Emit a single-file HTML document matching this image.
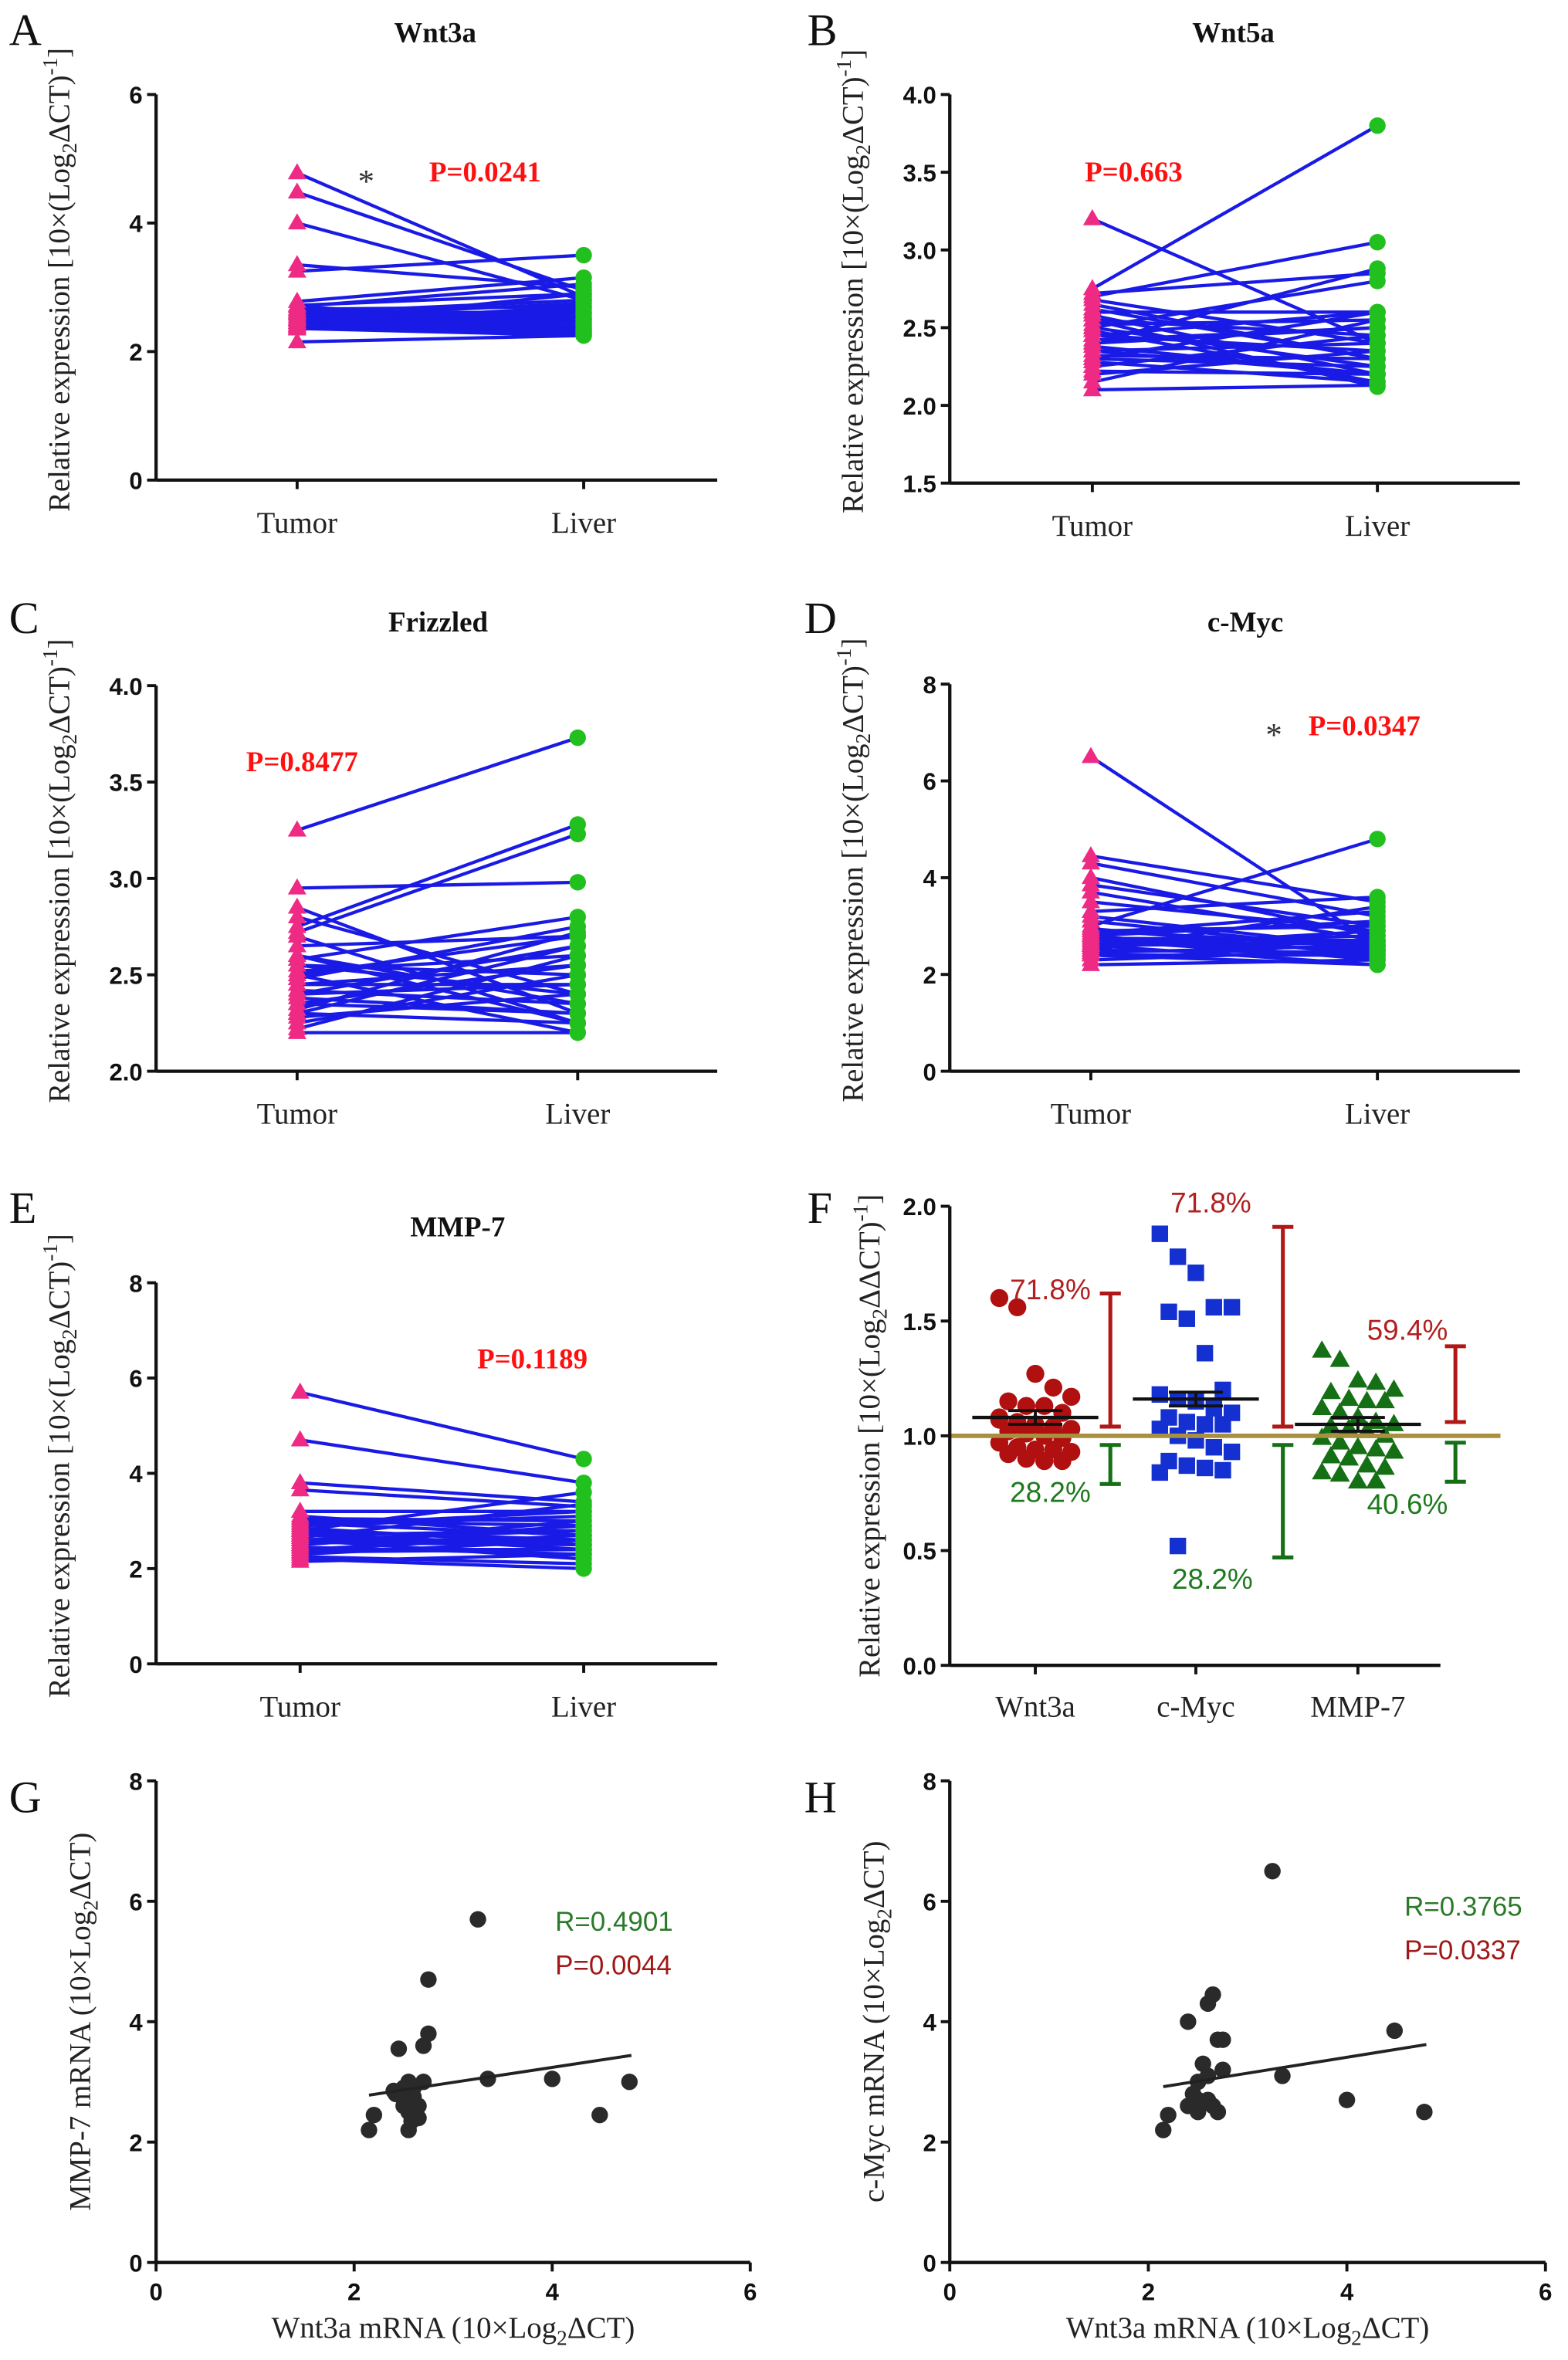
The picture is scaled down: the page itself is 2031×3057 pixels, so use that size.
<!DOCTYPE html>
<html><head><meta charset="utf-8"><style>
html,body{margin:0;padding:0;background:#fff}
svg{display:block}
</style></head><body>
<svg id="fig" width="2031" height="3057" viewBox="0 0 1045 1573" xmlns="http://www.w3.org/2000/svg"></svg>
<script>
// ---------- DATA ----------
const pairCategories = ["Tumor", "Liver"];
const wnt3aTumor = [4.78,4.48,4.0,3.35,3.25,2.78,2.72,2.7,2.66,2.62,2.6,2.58,2.55,2.52,2.5,2.5,2.48,2.45,2.45,2.42,2.4,2.4,2.38,2.36,2.6,2.55,2.5,2.45,2.15,2.65,2.35,2.7];
const wnt3aLiver = [2.85,2.95,2.8,3.0,3.5,3.15,2.9,3.05,2.7,2.6,2.5,2.45,2.4,2.35,2.3,2.6,2.55,2.7,2.28,2.5,2.4,2.35,2.3,2.25,2.8,2.75,2.65,2.9,2.25,2.35,2.5,2.45];
const wnt5aTumor = [3.2,2.75,2.72,2.7,2.65,2.6,2.58,2.55,2.52,2.5,2.48,2.45,2.42,2.4,2.38,2.35,2.32,2.3,2.28,2.25,2.22,2.2,2.15,2.1,2.62,2.5,2.4,2.35,2.68,2.3,2.45,2.55];
const wnt5aLiver = [2.4,3.8,2.85,3.05,2.3,2.6,2.2,2.45,2.55,2.25,2.15,2.35,2.5,2.88,2.2,2.4,2.3,2.6,2.15,2.45,2.2,2.35,2.55,2.13,2.3,2.8,2.5,2.2,2.4,2.25,2.6,2.12];
const frizTumor = [3.25,2.95,2.85,2.8,2.75,2.72,2.65,2.6,2.58,2.55,2.52,2.5,2.48,2.45,2.42,2.4,2.38,2.35,2.32,2.3,2.28,2.25,2.22,2.2,2.6,2.5,2.4,2.35,2.45,2.55,2.3,2.7];
const frizLiver = [3.73,2.98,2.3,2.4,3.28,3.23,2.7,2.25,2.8,2.5,2.6,2.2,2.75,2.45,2.35,2.65,2.3,2.55,2.72,2.25,2.4,2.5,2.6,2.2,2.35,2.7,2.45,2.3,2.55,2.4,2.65,2.25];
const mycTumor = [6.5,4.45,4.3,4.0,3.85,3.7,3.5,3.3,3.1,3.0,2.95,2.9,2.85,2.8,2.75,2.7,2.65,2.6,2.55,2.5,2.45,2.4,2.3,2.2,2.8,2.6,2.7,2.5,3.2,2.4,2.9,2.6];
const mycLiver = [2.6,3.5,3.2,2.8,3.0,2.7,2.9,3.6,2.5,4.8,2.4,2.6,3.3,2.3,2.7,2.5,2.8,2.2,2.9,3.4,2.6,2.4,2.5,2.3,3.1,2.7,2.35,2.45,2.55,2.2,3.0,2.65];
const mmpTumor = [5.7,4.7,3.8,3.65,3.2,3.05,3.0,2.95,2.9,2.85,2.8,2.75,2.7,2.65,2.6,2.55,2.5,2.45,2.4,2.35,2.3,2.25,2.2,2.15,2.8,2.6,2.7,2.5,3.1,2.4,2.9,2.6];
const mmpLiver = [4.3,3.8,3.4,3.3,3.2,3.0,2.9,2.7,3.1,2.5,2.6,2.4,2.8,3.35,2.2,2.5,2.9,2.3,2.7,2.4,2.6,2.1,2.0,2.3,3.6,2.8,2.5,3.0,2.7,2.4,3.2,2.6];
const fCategories = ["Wnt3a", "c-Myc", "MMP-7"];
const fWnt3a = [1.6,1.56,1.27,1.21,1.17,1.15,1.13,1.13,1.1,1.08,1.06,1.05,1.04,1.03,1.02,1.01,1.0,0.99,0.97,0.95,0.94,0.94,0.93,0.92,0.9,0.89,0.89,1.07,1.05];
const fMyc = [1.88,1.78,1.71,1.56,1.56,1.54,1.51,1.36,1.2,1.18,1.16,1.15,1.12,1.1,1.08,1.06,1.05,1.05,1.03,1.0,0.98,0.95,0.93,0.89,0.87,0.86,0.85,0.84,0.52];
const fMmp = [1.37,1.33,1.24,1.23,1.2,1.19,1.16,1.15,1.15,1.12,1.1,1.08,1.06,1.05,1.04,1.03,1.02,1.0,0.99,0.97,0.95,0.94,0.93,0.91,0.9,0.87,0.86,0.84,0.83,0.8,0.8];
const fMeans = [1.08,1.16,1.05];
const fUpRange = [[1.04,1.62],[1.04,1.91],[1.06,1.39]];
const fDownRange = [[0.96,0.79],[0.96,0.47],[0.97,0.80]];
const fUpPct = ["71.8%","71.8%","59.4%"];
const fDownPct = ["28.2%","28.2%","40.6%"];
const gX = [2.15,2.2,2.4,2.45,2.5,2.55,2.55,2.6,2.65,2.7,2.7,2.75,2.75,2.5,2.55,2.65,3.25,3.35,4.0,4.48,4.78,2.42,2.6,2.5,2.58];
const gY = [2.2,2.45,2.85,3.55,2.9,2.5,2.2,2.75,2.4,3.0,3.6,3.8,4.7,2.7,3.0,2.6,5.7,3.05,3.05,2.45,3.0,2.8,2.9,2.6,2.35];
const hX = [2.15,2.2,2.4,2.45,2.5,2.5,2.55,2.6,2.6,2.65,2.7,2.7,2.75,2.75,2.4,2.6,3.25,3.35,4.0,4.48,4.78,2.5,2.65];
const hY = [2.2,2.45,4.0,2.8,3.0,2.5,3.3,2.7,4.3,4.45,3.7,2.5,3.2,3.7,2.6,3.1,6.5,3.1,2.7,3.85,2.5,2.7,2.6];
const gFit = [[2.15,2.78],[4.8,3.44]];
const hFit = [[2.15,2.92],[4.8,3.62]];

// ---------- HELPERS ----------
const NS = "http://www.w3.org/2000/svg";
const svg = document.getElementById("fig");
function mk(tag, attrs, parent, text) {
  const e = document.createElementNS(NS, tag);
  for (const k in attrs) e.setAttribute(k, attrs[k]);
  if (text !== undefined) e.textContent = text;
  (parent || svg).appendChild(e);
  return e;
}
const SERIF = "'Liberation Serif', serif";
const SANS = "'Liberation Sans', sans-serif";
function linScale(d0, d1, r0, r1) { return v => r0 + (v - d0) / (d1 - d0) * (r1 - r0); }

function yAxis(g, x, yTop, yBot, ticks, y, fmt) {
  const ax = mk("line", {x1:x, y1:yTop, x2:x, y2:yBot, stroke:"#111", "stroke-width":2.2}, g);
  
  
  ticks.forEach(t => {
    const tl = mk("line", {x1:x-6, y1:y(t), x2:x, y2:y(t), stroke:"#111", "stroke-width":2}, g);
    
    
    const lb = mk("text", {x:x-9, y:y(t)+6, "text-anchor":"end", "font-family":SANS, "font-weight":"bold", "font-size":16, fill:"#111"}, g, fmt(t));
    
    
  });
}
function xAxisLine(g, x0, x1, yv) {
  const ax = mk("line", {x1:x0, y1:yv, x2:x1, y2:yv, stroke:"#111", "stroke-width":2.2}, g);
  
  
}
function yLabel(g, cx, cy, sub, dd) {
  const t = mk("text", {x:0, y:0, transform:`translate(${cx},${cy}) rotate(-90)`, "text-anchor":"middle", "font-family":SERIF, "font-size":20, fill:"#222"}, g);
  
  
  mk("tspan", {}, t, "Relative expression [10×(Log");
  mk("tspan", {dy:5, "font-size":14}, t, "2");
  mk("tspan", {dy:-5}, t, (dd ? "ΔΔCT)" : "ΔCT)"));
  mk("tspan", {dy:-8, "font-size":14}, t, "-1");
  mk("tspan", {dy:8}, t, "]");
}
function panelLetter(x, y, L) {
  const t = mk("text", {x:x, y:y, "font-family":SERIF, "font-size":30, fill:"#111"}, svg, L);
  
  
}
function tri(g, cx, cy, r, fill) {
  return mk("polygon", {points:`${cx},${cy-r} ${cx-r*0.95},${cy+r*0.65} ${cx+r*0.95},${cy+r*0.65}`, fill:fill}, g);
}

function pairPanel(o) {
  const g = mk("g", {});  
  const y = linScale(o.yMin, o.yMax, o.yBot, o.yTop);
  const xs = [o.xT, o.xL];
  // lines
  o.tumor.forEach((tv, i) => {
    const ln = mk("line", {x1:xs[0], y1:y(tv), x2:xs[1], y2:y(o.liver[i]), stroke:"#1a1ae6", "stroke-width":2.2}, g);
    
    
  });
  o.tumor.forEach(tv => {
    const p = tri(g, xs[0], y(tv), 6.5, "#ee2a85");
    
    
  });
  o.liver.forEach(lv => {
    const c = mk("circle", {cx:xs[1], cy:y(lv), r:5.5, fill:"#22c01e"}, g);
    
    
  });
  yAxis(g, o.ax, o.yTop, o.yBot, o.ticks, y, o.fmt);
  xAxisLine(g, o.ax, o.xEnd, o.yBot);
  pairCategories.forEach((c, i) => {
    const tk = mk("line", {x1:xs[i], y1:o.yBot, x2:xs[i], y2:o.yBot+6, stroke:"#111", "stroke-width":2}, g);
    
    
    const lb = mk("text", {x:xs[i], y:o.yBot+35, "text-anchor":"middle", "font-family":SERIF, "font-size":20, fill:"#222"}, g, c);
    
    
  });
  const ti = mk("text", {x:o.titleX, y:o.titleY, "text-anchor":"middle", "font-family":SERIF, "font-weight":"bold", "font-size":19, fill:"#111"}, g, o.title);
  
  
  const pv = mk("text", {x:o.pX, y:o.pY, "font-family":SERIF, "font-weight":"bold", "font-size":19, fill:"#ff1010"}, g, o.p);
  
  
  if (o.starX) {
    const st = mk("text", {x:o.starX, y:o.starY, "text-anchor":"middle", "font-family":SERIF, "font-size":22, fill:"#333"}, g, "*");
    
    
  }
  yLabel(g, o.ax - 58, (o.yTop + o.yBot) / 2 - 5, true, false);
}

panelLetter(6, 30, "A"); panelLetter(538, 30, "B");
panelLetter(6, 422, "C"); panelLetter(536, 422, "D");
panelLetter(6, 815, "E"); panelLetter(538, 815, "F");
panelLetter(6, 1208, "G"); panelLetter(536, 1208, "H");

pairPanel({name:"panel-a-wnt3a", tumor:wnt3aTumor, liver:wnt3aLiver, yMin:0, yMax:6, yTop:63, yBot:320, ax:104, xEnd:478, xT:198, xL:389, ticks:[0,2,4,6], fmt:t=>String(t), title:"Wnt3a", titleX:290, titleY:28, p:"P=0.0241", pX:286, pY:121, starX:244, starY:128});
pairPanel({name:"panel-b-wnt5a", tumor:wnt5aTumor, liver:wnt5aLiver, yMin:1.5, yMax:4.0, yTop:63, yBot:322, ax:633, xEnd:1013, xT:728, xL:918, ticks:[1.5,2.0,2.5,3.0,3.5,4.0], fmt:t=>t.toFixed(1), title:"Wnt5a", titleX:822, titleY:28, p:"P=0.663", pX:723, pY:121});
pairPanel({name:"panel-c-frizzled", tumor:frizTumor, liver:frizLiver, yMin:2.0, yMax:4.0, yTop:457, yBot:714, ax:104, xEnd:478, xT:198, xL:385, ticks:[2.0,2.5,3.0,3.5,4.0], fmt:t=>t.toFixed(1), title:"Frizzled", titleX:292, titleY:421, p:"P=0.8477", pX:164, pY:514});
pairPanel({name:"panel-d-cmyc", tumor:mycTumor, liver:mycLiver, yMin:0, yMax:8, yTop:456, yBot:714, ax:633, xEnd:1013, xT:727, xL:918, ticks:[0,2,4,6,8], fmt:t=>String(t), title:"c-Myc", titleX:830, titleY:421, p:"P=0.0347", pX:872, pY:490, starX:849, starY:497});
pairPanel({name:"panel-e-mmp7", tumor:mmpTumor, liver:mmpLiver, yMin:0, yMax:8, yTop:855, yBot:1109, ax:104, xEnd:478, xT:200, xL:389, ticks:[0,2,4,6,8], fmt:t=>String(t), title:"MMP-7", titleX:305, titleY:824, p:"P=0.1189", pX:318, pY:912});

// ---------- PANEL F ----------
(function(){
  const g = mk("g", {});  
  const ax = 633, yTop = 804, yBot = 1110, xEnd = 960;
  const y = linScale(0, 2, yBot, yTop);
  const cx = [690, 797, 905];
  const barX = [740, 855, 970];
  const series = [fWnt3a, fMyc, fMmp];
  const colors = ["#b01010", "#1430d0", "#157015"];
  const jit = [-24,-12,0,12,24,-18,-6,6,18];
  series.forEach((vals, si) => {
    vals.forEach((v, i) => {
      const px = cx[si] + jit[i % jit.length];
      let m;
      if (si === 0) m = mk("circle", {cx:px, cy:y(v), r:6, fill:colors[0]}, g);
      else if (si === 1) m = mk("rect", {x:px-5.5, y:y(v)-5.5, width:11, height:11, fill:colors[1]}, g);
      else m = tri(g, px, y(v), 7, colors[2]);
      
      
    });
    const mn = mk("line", {x1:cx[si]-42, y1:y(fMeans[si]), x2:cx[si]+42, y2:y(fMeans[si]), stroke:"#111", "stroke-width":2.2}, g);
    
    
    const se = mk("path", {d:`M${cx[si]-18},${y(fMeans[si]+0.03)}H${cx[si]+18}M${cx[si]},${y(fMeans[si]+0.03)}V${y(fMeans[si]-0.03)}M${cx[si]-18},${y(fMeans[si]-0.03)}H${cx[si]+18}`, stroke:"#111", "stroke-width":2, fill:"none"}, g);
    
    
    [[fUpRange[si], "#b01818"], [fDownRange[si], "#157015"]].forEach(([r, c]) => {
      const b = mk("path", {d:`M${barX[si]-7},${y(r[0])}H${barX[si]+7}M${barX[si]},${y(r[0])}V${y(r[1])}M${barX[si]-7},${y(r[1])}H${barX[si]+7}`, stroke:c, "stroke-width":2.6, fill:"none"}, g);
      
      
    });
  });
  const base = mk("line", {x1:ax, y1:y(1), x2:1000, y2:y(1), stroke:"#a89040", "stroke-width":3}, g);
  
  
  const upPos = [[700,866],[807,808],[938,893]];
  const dnPos = [[700,1001],[808,1059],[938,1009]];
  fUpPct.forEach((t, i) => {
    const e = mk("text", {x:upPos[i][0], y:upPos[i][1], "text-anchor":"middle", "font-family":SANS, "font-size":19, fill:"#b02020"}, g, t);
    
    
  });
  fDownPct.forEach((t, i) => {
    const e = mk("text", {x:dnPos[i][0], y:dnPos[i][1], "text-anchor":"middle", "font-family":SANS, "font-size":19, fill:"#1e7a1e"}, g, t);
    
    
  });
  yAxis(g, ax, yTop, yBot, [0,0.5,1.0,1.5,2.0], y, t=>t.toFixed(1));
  xAxisLine(g, ax, xEnd, yBot);
  fCategories.forEach((c, i) => {
    const tk = mk("line", {x1:cx[i], y1:yBot, x2:cx[i], y2:yBot+6, stroke:"#111", "stroke-width":2}, g);
    
    
    const lb = mk("text", {x:cx[i], y:yBot+34, "text-anchor":"middle", "font-family":SERIF, "font-size":20, fill:"#222"}, g, c);
    
    
  });
  yLabel(g, 586, 957, true, true);
})();

// ---------- SCATTER G/H ----------
function scatterPanel(o) {
  const g = mk("g", {});  
  const yTop = 1187, yBot = 1508;
  const x = linScale(0, 6, o.ax, o.xEnd);
  const y = linScale(0, 8, yBot, yTop);
  o.xs.forEach((xv, i) => {
    const c = mk("circle", {cx:x(xv), cy:y(o.ys[i]), r:5.5, fill:"#2a2a2a"}, g);
    
    
  });
  const f = mk("line", {x1:x(o.fit[0][0]), y1:y(o.fit[0][1]), x2:x(o.fit[1][0]), y2:y(o.fit[1][1]), stroke:"#222", "stroke-width":2}, g);
  
  
  yAxis(g, o.ax, yTop, yBot, [0,2,4,6,8], y, t=>String(t));
  xAxisLine(g, o.ax, o.xEnd, yBot);
  [0,2,4,6].forEach(t => {
    const tk = mk("line", {x1:x(t), y1:yBot, x2:x(t), y2:yBot+6, stroke:"#111", "stroke-width":2}, g);
    
    
    const lb = mk("text", {x:x(t), y:yBot+25, "text-anchor":"middle", "font-family":SANS, "font-weight":"bold", "font-size":16, fill:"#111"}, g, String(t));
    
    
  });
  const xt = mk("text", {x:(o.ax+o.xEnd)/2, y:yBot+50, "text-anchor":"middle", "font-family":SERIF, "font-size":20, fill:"#222"}, g);
  
  
  mk("tspan", {}, xt, o.xTitle + " (10×Log");
  mk("tspan", {dy:5, "font-size":14}, xt, "2");
  mk("tspan", {dy:-5}, xt, "ΔCT)");
  const yt = mk("text", {x:0, y:0, transform:`translate(${o.ax-44},${(yTop+yBot)/2}) rotate(-90)`, "text-anchor":"middle", "font-family":SERIF, "font-size":20, fill:"#222"}, g);
  
  
  mk("tspan", {}, yt, o.yTitle + " (10×Log");
  mk("tspan", {dy:5, "font-size":14}, yt, "2");
  mk("tspan", {dy:-5}, yt, "ΔCT)");
  const r = mk("text", {x:o.txtX, y:o.rY, "font-family":SANS, "font-size":18, fill:"#2a7a2a"}, g, o.r);
  
  
  const p = mk("text", {x:o.txtX, y:o.rY+29, "font-family":SANS, "font-size":18, fill:"#a01818"}, g, o.p);
  
  
}
scatterPanel({name:"panel-g-mmp7-vs-wnt3a", xs:gX, ys:gY, fit:gFit, ax:104, xEnd:500, xTitle:"Wnt3a mRNA", yTitle:"MMP-7 mRNA", r:"R=0.4901", p:"P=0.0044", txtX:370, rY:1287});
scatterPanel({name:"panel-h-cmyc-vs-wnt3a", xs:hX, ys:hY, fit:hFit, ax:633, xEnd:1030, xTitle:"Wnt3a  mRNA", yTitle:"c-Myc mRNA", r:"R=0.3765", p:"P=0.0337", txtX:936, rY:1277});
</script>
</body></html>
